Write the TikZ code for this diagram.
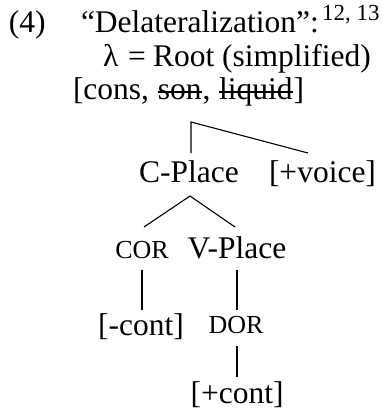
\documentclass[tikz,border=0pt]{standalone}
\usepackage{fontspec}
\setmainfont{Liberation Serif}
% struck-out feature value
\newcommand{\strk}[1]{\tikz[baseline=(s.base)]{\node[inner sep=0pt,outer sep=0pt](s){#1};\draw[line width=1.8pt]([yshift=0.26em]s.base west)--([yshift=0.26em]s.base east);}}
\begin{document}
\begin{tikzpicture}[x=1pt,y=-1pt,
  every node/.style={inner sep=0pt,outer sep=0pt},
  txt/.style={font=\fontsize{31.5}{36}\selectfont, anchor=base},
  small/.style={font=\fontsize{26}{30}\selectfont, anchor=base},
  branch/.style={line width=1.1pt}]
\useasboundingbox (0,0) rectangle (381,414);
% heading lines
\node[txt, anchor=base west] (num) at (9,33) {(4)};
\node[txt, anchor=base west] (title) at (81,33) {“Delateralization”:};
\node[anchor=base west, font=\fontsize{23}{26}\selectfont] (notes) at (322,21) {12, 13};
\node[txt, anchor=base west] (lam) at (103,67) {λ};
\node[txt, anchor=base west] (eq) at (128,67) {=};
\node[txt, anchor=base west] (root) at (153,67) {Root (simplified)};
\node[txt, anchor=base west] (feat) at (73,100) {[cons, \strk{son}, \strk{liquid}]};
% root node and its daughters
\coordinate (top) at (191,122);
\node[txt] (cplace) at (189,182) {C-Place};
\node[txt, anchor=base west] (voice) at (269,182) {[+voice]};
\coordinate (cpl) at (191,153);
\coordinate (vce) at (308,153);
\draw[branch] (cpl) -- (top) -- (vce);
% C-Place and its daughters
\node[small] (cor) at (142,258) {COR};
\node[txt] (vplace) at (237,258) {V-Place};
\coordinate (apex) at (190,196);
\coordinate (lend) at (144,227);
\coordinate (rend) at (235,227);
\draw[branch] (lend) -- (apex) -- (rend);
% lower tiers
\node[txt] (mcont) at (141,335) {[-cont]};
\node[small] (dor) at (236,333) {DOR};
\coordinate (c1) at (142,270);
\coordinate (c2) at (142,310);
\coordinate (v1) at (237,270);
\coordinate (v2) at (237,310);
\coordinate (d1) at (237,346);
\coordinate (d2) at (237,377);
\draw[branch] (c1) -- (c2);
\draw[branch] (v1) -- (v2);
\draw[branch] (d1) -- (d2);
\node[txt] (pcont) at (237,403) {[+cont]};
\end{tikzpicture}
\end{document}
